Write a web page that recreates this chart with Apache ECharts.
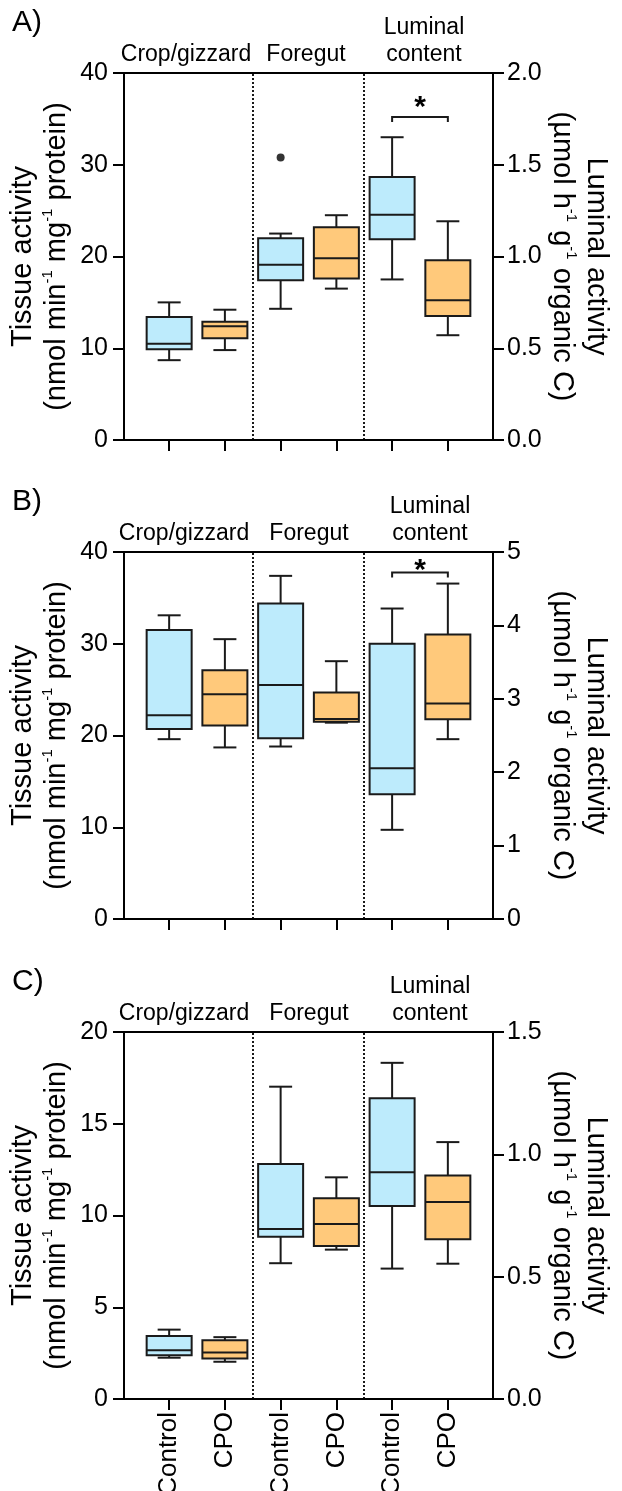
<!DOCTYPE html>
<html>
<head>
<meta charset="utf-8">
<script src="https://cdn.jsdelivr.net/npm/echarts@6/dist/echarts.min.js"></script>
<style>
html,body{margin:0;padding:0;background:#fff;}
#chart{width:622px;height:1491px;}
</style>
</head>
<body>
<div id="chart"></div>
<script>
// ---------------- data ----------------
const xCategories = ['Control', 'CPO', 'Control', 'CPO', 'Control', 'CPO'];
const groupNames = ['Crop/gizzard', 'Foregut', 'Luminal\ncontent'];
const panelLetters = ['A)', 'B)', 'C)'];
const tissueControlX = [0, 2];
const tissueCpoX = [1, 3];
const luminalControlX = 4;
const luminalCpoX = 5;

// box values: [min, Q1, median, Q3, max]
// Panel A
const A_controlTissue = [[8.7, 9.9, 10.5, 13.4, 15.0], [14.3, 17.4, 19.1, 22.0, 22.5]];
const A_cpoTissue = [[9.8, 11.1, 12.4, 12.9, 14.2], [16.5, 17.6, 19.8, 23.2, 24.5]];
const A_controlLuminal = [0.875, 1.094, 1.227, 1.433, 1.65];
const A_cpoLuminal = [0.571, 0.676, 0.761, 0.98, 1.192];
const A_outliers = [[2, 30.8]];
const A_sig = [4, 5, 1.76, 1.842];
const A_leftTicks = [0, 10, 20, 30, 40];
const A_rightTicks = ['0.0', '0.5', '1.0', '1.5', '2.0'];

// Panel B
const B_controlTissue = [[19.6, 20.7, 22.2, 31.5, 33.1], [18.8, 19.7, 25.5, 34.4, 37.4]];
const B_cpoTissue = [[18.7, 21.1, 24.5, 27.1, 30.5], [21.4, 21.5, 21.8, 24.7, 28.1]];
const B_controlLuminal = [1.215, 1.70, 2.055, 3.75, 4.23];
const B_cpoLuminal = [2.45, 2.72, 2.936, 3.875, 4.57];
const B_outliers = [];
const B_sig = [4, 5, 4.72, 4.82];
const B_leftTicks = [0, 10, 20, 30, 40];
const B_rightTicks = ['0', '1', '2', '3', '4', '5'];

// Panel C
const C_controlTissue = [[2.25, 2.39, 2.65, 3.44, 3.78], [7.4, 8.84, 9.26, 12.8, 17.02]];
const C_cpoTissue = [[2.03, 2.21, 2.54, 3.2, 3.37], [8.14, 8.34, 9.54, 10.94, 12.08]];
const C_controlLuminal = [0.533, 0.789, 0.927, 1.229, 1.374];
const C_cpoLuminal = [0.553, 0.653, 0.805, 0.913, 1.05];
const C_outliers = [];
const C_sig = null;
const C_leftTicks = [0, 5, 10, 15, 20];
const C_rightTicks = ['0.0', '0.5', '1.0', '1.5'];

const leftName = 'Tissue activity\n(nmol min{s|-1} mg{s|-1} protein)';
const rightName = 'Luminal activity\n(\u00b5mol h{s|-1} g{s|-1} organic C)';

// ---------------- style ----------------
const FONT = '"Liberation Sans", Arial, Helvetica, sans-serif';
const BLUE = '#BDEBFC';
const ORANGE = '#FFC97B';
const EDGE = '#1a1a1a';
const LW = 2;
const BOX_W = 45;
const CAP_W = 23;
const GRID_LEFT = 124, GRID_W = 369, GRID_H = 367;
const tops = [73, 552, 1032];
const groupX = [[186, 306, 424], [184, 309, 430], [184, 309, 430]];

const panels = [
  {ct: A_controlTissue, pt: A_cpoTissue, cl: A_controlLuminal, pl: A_cpoLuminal, out: A_outliers, sig: A_sig, lt: A_leftTicks, rt: A_rightTicks},
  {ct: B_controlTissue, pt: B_cpoTissue, cl: B_controlLuminal, pl: B_cpoLuminal, out: B_outliers, sig: B_sig, lt: B_leftTicks, rt: B_rightTicks},
  {ct: C_controlTissue, pt: C_cpoTissue, cl: C_controlLuminal, pl: C_cpoLuminal, out: C_outliers, sig: C_sig, lt: C_leftTicks, rt: C_rightTicks}
];

function boxRenderer(fill) {
  return function (params, api) {
    const x = api.value(0);
    const p = [1, 2, 3, 4, 5].map(i => api.coord([x, api.value(i)]));
    const cx = p[0][0];
    const yMin = p[0][1], yQ1 = p[1][1], yMed = p[2][1], yQ3 = p[3][1], yMax = p[4][1];
    const hw = BOX_W / 2, cw = CAP_W / 2;
    const ls = {stroke: EDGE, lineWidth: LW};
    return {
      type: 'group',
      children: [
        {type: 'line', shape: {x1: cx, y1: yMax, x2: cx, y2: yQ3}, style: ls},
        {type: 'line', shape: {x1: cx, y1: yQ1, x2: cx, y2: yMin}, style: ls},
        {type: 'line', shape: {x1: cx - cw, y1: yMax, x2: cx + cw, y2: yMax}, style: ls},
        {type: 'line', shape: {x1: cx - cw, y1: yMin, x2: cx + cw, y2: yMin}, style: ls},
        {type: 'rect', shape: {x: cx - hw, y: yQ3, width: BOX_W, height: yQ1 - yQ3}, style: {fill: fill, stroke: EDGE, lineWidth: LW}},
        {type: 'line', shape: {x1: cx - hw, y1: yMed, x2: cx + hw, y2: yMed}, style: ls}
      ]
    };
  };
}

function bracketRenderer(params, api) {
  const x1 = api.value(0), x2 = api.value(1), y = api.value(2), sy = api.value(3);
  const a = api.coord([x1, y]);
  const b = api.coord([x2, y]);
  const s = api.coord([(x1 + x2) / 2, sy]);
  return {
    type: 'group',
    children: [
      {type: 'polyline', shape: {points: [[a[0], a[1] + 5], [a[0], a[1]], [b[0], b[1]], [b[0], b[1] + 5]]}, style: {stroke: EDGE, lineWidth: LW, fill: null}},
      {type: 'text', style: {text: '*', x: s[0], y: s[1] + 6, fill: '#000', font: 'bold 30px ' + FONT, textAlign: 'center', align: 'center', textVerticalAlign: 'middle', verticalAlign: 'middle'}}
    ]
  };
}

const axisLineStyle = {color: '#000', width: 2};
const grids = [], xAxes = [], yAxes = [], series = [], graphics = [];

panels.forEach((p, i) => {
  const top = tops[i];
  grids.push({left: GRID_LEFT, top: top, width: GRID_W, height: GRID_H, show: true, borderColor: '#000', borderWidth: 2, backgroundColor: 'transparent', containLabel: false, outerBoundsMode: 'none'});
  xAxes.push({
    gridIndex: i, type: 'value', min: -0.81, max: 5.81,
    axisLine: {show: true, onZero: false, lineStyle: axisLineStyle},
    axisTick: {show: true, customValues: [0, 1, 2, 3, 4, 5], length: 11, lineStyle: axisLineStyle},
    axisLabel: i === 2 ? {show: true, customValues: [0, 1, 2, 3, 4, 5], formatter: v => xCategories[Math.round(v)], rotate: 90, margin: 13, fontSize: 26, color: '#000', fontFamily: FONT} : {show: false},
    splitLine: {show: false}
  });
  const lt = p.lt, rt = p.rt;
  yAxes.push({
    gridIndex: i, type: 'value', position: 'left', min: lt[0], max: lt[lt.length - 1], interval: lt[1] - lt[0],
    axisLine: {show: true, onZero: false, lineStyle: axisLineStyle},
    axisTick: {show: true, length: 11, lineStyle: axisLineStyle},
    axisLabel: {margin: 16, fontSize: 25, color: '#000', fontFamily: FONT},
    splitLine: {show: false},
    name: leftName, nameLocation: 'middle', nameRotate: 90, nameGap: 50, nameMoveOverlap: false,
    nameTextStyle: {fontSize: 29, lineHeight: 34, color: '#000', fontFamily: FONT, align: 'center',
      rich: {s: {fontSize: 15, lineHeight: 18, verticalAlign: 'top', color: '#000', fontFamily: FONT}}}
  });
  const rmax = parseFloat(rt[rt.length - 1]);
  const rint = parseFloat(rt[1]) - parseFloat(rt[0]);
  yAxes.push({
    gridIndex: i, type: 'value', position: 'right', min: 0, max: rmax, interval: rint,
    axisLine: {show: true, onZero: false, lineStyle: axisLineStyle},
    axisTick: {show: true, length: 11, lineStyle: axisLineStyle},
    axisLabel: {margin: 14, fontSize: 25, color: '#000', fontFamily: FONT, formatter: v => rt[Math.round(v / rint)]},
    splitLine: {show: false},
    name: rightName, nameLocation: 'middle', nameRotate: -90, nameGap: 52, nameMoveOverlap: false,
    nameTextStyle: {fontSize: 29, lineHeight: 34, color: '#000', fontFamily: FONT, align: 'center',
      rich: {s: {fontSize: 15, lineHeight: 18, verticalAlign: 'top', color: '#000', fontFamily: FONT}}}
  });
  const yl = i * 2, yr = i * 2 + 1;
  const enc = {x: 0, y: [1, 2, 3, 4, 5]};
  series.push({type: 'custom', xAxisIndex: i, yAxisIndex: yl, renderItem: boxRenderer(BLUE), encode: enc,
    data: p.ct.map((v, k) => [tissueControlX[k]].concat(v)), silent: true, z: 3});
  series.push({type: 'custom', xAxisIndex: i, yAxisIndex: yl, renderItem: boxRenderer(ORANGE), encode: enc,
    data: p.pt.map((v, k) => [tissueCpoX[k]].concat(v)), silent: true, z: 3});
  series.push({type: 'custom', xAxisIndex: i, yAxisIndex: yr, renderItem: boxRenderer(BLUE), encode: enc,
    data: [[luminalControlX].concat(p.cl)], silent: true, z: 3});
  series.push({type: 'custom', xAxisIndex: i, yAxisIndex: yr, renderItem: boxRenderer(ORANGE), encode: enc,
    data: [[luminalCpoX].concat(p.pl)], silent: true, z: 3});
  series.push({type: 'scatter', xAxisIndex: i, yAxisIndex: yl, data: p.out, symbol: 'circle', symbolSize: 8,
    itemStyle: {color: '#000'}, silent: true, z: 4,
    markLine: {silent: true, symbol: 'none', label: {show: false}, animation: false,
      lineStyle: {color: '#000', type: [2, 2], width: 1.8},
      emphasis: {disabled: true},
      data: [{xAxis: 1.5}, {xAxis: 3.5}]}});
  if (p.sig) {
    series.push({type: 'custom', xAxisIndex: i, yAxisIndex: yr, renderItem: bracketRenderer,
      encode: {x: [0, 1], y: [2, 3]}, data: [p.sig], silent: true, z: 4});
  }
  // panel letter & group labels
  graphics.push({type: 'text', x: 12, y: top - 50, style: {text: panelLetters[i], fill: '#000', font: '30px ' + FONT, textAlign: 'left', align: 'left', textVerticalAlign: 'middle', verticalAlign: 'middle'}});
  groupNames.forEach((g, k) => {
    const lines = g.split('\n');
    lines.forEach((ln, j) => {
      const cy = lines.length === 1 ? top - 18 : (j === 0 ? top - 45 : top - 18);
      graphics.push({type: 'text', x: groupX[i][k], y: cy,
        style: {text: ln, fill: '#000', font: '23px ' + FONT, textAlign: 'center', align: 'center', textVerticalAlign: 'middle', verticalAlign: 'middle'}});
    });
  });
});

const chart = echarts.init(document.getElementById('chart'), null, {renderer: 'canvas', width: 622, height: 1491});
chart.setOption({
  animation: false,
  backgroundColor: '#fff',
  grid: grids,
  xAxis: xAxes,
  yAxis: yAxes,
  series: series,
  graphic: graphics
});
</script>
</body>
</html>
